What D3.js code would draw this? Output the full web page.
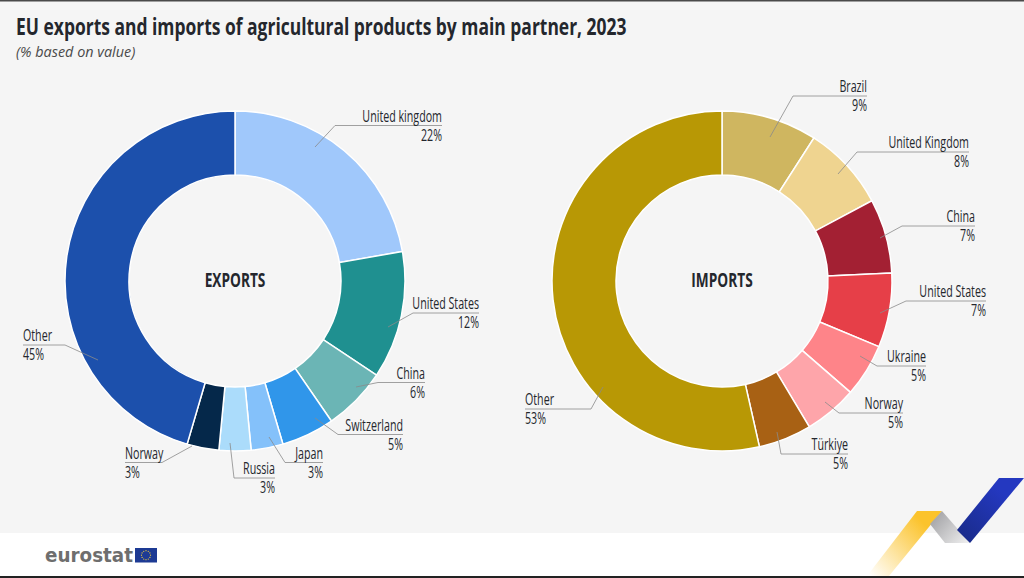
<!DOCTYPE html>
<html lang="en">
<head>
    <meta charset="UTF-8">
    <title>EU exports and imports of agricultural products</title>
    <script src="https://d3js.org/d3.v7.min.js"></script>
    <style>
        html, body { margin: 0; padding: 0; background: #fff; }
        svg { display: block; }
        text { fill: #24272d; font-family: "Open Sans", sans-serif; }
        .title { font-size: 24px; font-weight: 700; }
        .subtitle { font-size: 14.4px; font-style: italic; fill: #4a4a4a; }
        .center { font-size: 19px; font-weight: 700; text-anchor: middle; }
        .label { font-size: 15.5px; }
        .leader { fill: none; stroke: #8a8a8a; stroke-width: 0.8px; }
        .logo { font-family: "DejaVu Sans", sans-serif; font-size: 20px; font-weight: bold; fill: #6e6e6e; }
    </style>
</head>
<body>
    <svg id="chart" width="1024" height="578"></svg>
    <script>
        // values as labelled in the picture
        const exportCountries = ["United kingdom", "United States", "China", "Switzerland", "Japan", "Russia", "Norway", "Other"];
        const exportValues = [22, 12, 6, 5, 3, 3, 3, 45];
        const exportColors = ["#a0c8fb", "#1f9090", "#6bb5b5", "#3096ea", "#84c1fa", "#abdcfb", "#05284a", "#1c50ac"];

        const importCountries = ["Brazil", "United Kingdom", "China", "United States", "Ukraine", "Norway", "Türkiye", "Other"];
        const importValues = [9, 8, 7, 7, 5, 5, 5, 53];
        const importColors = ["#cfb660", "#efd490", "#a32033", "#e63f48", "#fe8489", "#fea5aa", "#a86114", "#b89805"];

        // hand placed callouts: [start x, start y, elbow x, line y, end x], same order as the countries
        const exportLeaders = [
            [315, 147, 335, 125.5, 442], [388, 327, 413, 313, 479], [356, 387, 378, 382.5, 425],
            [315, 418, 338, 434.5, 403], [269, 437, 285, 462.5, 323], [230, 443, 234, 478, 275],
            [192, 446, 162, 462.5, 125], [98, 360, 65, 345, 23]
        ];
        const importLeaders = [
            [770, 137, 793, 96, 867], [838, 174, 857, 152, 969], [880, 238, 902, 226, 975],
            [880, 313, 906, 301, 986], [860, 356, 877, 366, 926], [825, 402, 839, 413, 903],
            [777, 432, 781, 454, 848], [603, 387, 591, 409, 525]
        ];

        const width = 1024, height = 578;
        const svg = d3.select("#chart");

        // no condensed face installed, so text gets squeezed horizontally
        function squeezed(cls, x, y, sx, str) {
            return svg.append("text").attr("class", cls)
                .attr("transform", `translate(${x},${y}) scale(${sx},1)`)
                .text(str);
        }

        svg.append("rect").attr("width", width).attr("height", 533).attr("fill", "#f5f5f5");
        svg.append("rect").attr("width", width).attr("height", 1.5).attr("fill", "#4a4a4a");
        svg.append("rect").attr("y", 576).attr("width", width).attr("height", 2).attr("fill", "#222");

        const title = squeezed("title", 16, 35, 1, "EU exports and imports of agricultural products by main partner, 2023");
        title.attr("transform", `translate(16,35) scale(${611 / title.node().getComputedTextLength()},1)`);
        svg.append("text").attr("class", "subtitle").attr("x", 16).attr("y", 57)
            .text("(% based on value)");

        const pie = d3.pie().sort(null);
        const arc = d3.arc().innerRadius(106).outerRadius(170);

        function drawDonut(cx, cy, name, countries, values, colors, leaders) {
            svg.append("g").attr("transform", `translate(${cx},${cy})`)
                .selectAll("path")
                .data(pie(values))
                .enter().append("path")
                .attr("d", arc)
                .attr("fill", (d, i) => colors[i])
                .attr("stroke", "#fff")
                .attr("stroke-width", 1.5);

            squeezed("center", cx, cy + 6, 0.72, name);

            countries.forEach((country, i) => {
                const [sx, sy, ex, ly, tx] = leaders[i];
                svg.append("path").attr("class", "leader")
                    .attr("d", d3.line()([[sx, sy], [ex, ly], [tx, ly]]));
                // callouts left of the ring
                const anchor = tx < ex ? "start" : "end";
                squeezed("label", tx, ly - 4, 0.69, country).attr("text-anchor", anchor);
                squeezed("label", tx, ly + 15, 0.69, values[i] + "%").attr("text-anchor", anchor);
            });
        }

        drawDonut(235, 281, "EXPORTS", exportCountries, exportValues, exportColors, exportLeaders);
        drawDonut(722, 281, "IMPORTS", importCountries, importValues, importColors, importLeaders);

        // eurostat logo
        svg.append("text").attr("class", "logo").attr("x", 45).attr("y", 562)
            .attr("textLength", 88).attr("lengthAdjust", "spacingAndGlyphs").text("eurostat");
        svg.append("rect").attr("x", 135).attr("y", 548).attr("width", 22).attr("height", 14.5).attr("fill", "#1d3a94");
        d3.range(12).forEach(i => {
            const a = i / 12 * 2 * Math.PI;
            svg.append("circle").attr("cx", 146 + 4.5 * Math.cos(a)).attr("cy", 555.2 + 4.5 * Math.sin(a))
                .attr("r", 0.6).attr("fill", "#f5cf3a");
        });

        // ribbon in the bottom right corner
        const defs = svg.append("defs");
        function ribbonGradient(id, x1, y1, x2, y2, from, to) {
            const grad = defs.append("linearGradient").attr("id", id)
                .attr("gradientUnits", "userSpaceOnUse")
                .attr("x1", x1).attr("y1", y1).attr("x2", x2).attr("y2", y2);
            grad.append("stop").attr("offset", 0).attr("stop-color", from);
            grad.append("stop").attr("offset", 1).attr("stop-color", to);
        }
        ribbonGradient("yellowGrad", 925, 525, 870, 576, "#fbc32c", "#ffffff");
        ribbonGradient("greyGrad", 935, 515, 970, 545, "#a5a5a8", "#f4f4f4");
        ribbonGradient("blueGrad", 1000, 490, 960, 535, "#2438c0", "#1a2c8c");

        const ribbons = [
            [[917, 511], [942, 511], [889, 576], [867, 576], "url(#yellowGrad)"],
            [[942, 511], [970, 543], [945, 543], [930, 524], "url(#greyGrad)"],
            [[999, 478], [1024, 478], [970, 543], [957, 530], "url(#blueGrad)"]
        ];
        ribbons.forEach(r => {
            svg.append("path").attr("d", d3.line()(r.slice(0, 4)) + "Z").attr("fill", r[4]);
        });
    </script>
</body>
</html>
